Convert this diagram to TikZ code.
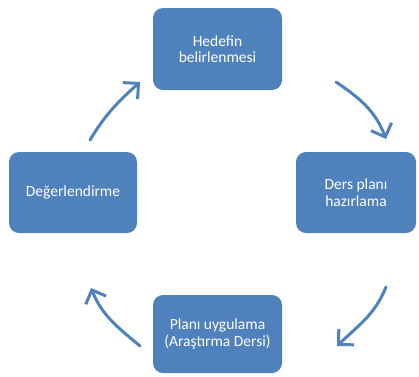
\documentclass[tikz,border=0pt]{standalone}
\usepackage{fontspec}
\setmainfont{Carlito}
\usetikzlibrary{arrows.meta}
\definecolor{boxblue}{HTML}{4F81BD}
\tikzset{
  stepbox/.style={rectangle, rounded corners=10pt, fill=boxblue, draw=none,
    text=white, align=center, inner sep=2pt,
    font=\fontsize{15.5}{16.5}\selectfont},
  cyclearrow/.style={draw=boxblue, line width=3pt, line cap=round,
    -{Straight Barb[length=11pt, width=22pt, line width=3pt]}}
}
\begin{document}
\begin{tikzpicture}[x=1pt, y=-1pt]
\useasboundingbox (0,0) rectangle (419,376);
\node[stepbox, minimum width=129pt, minimum height=82pt] (top) at (217.5,49) {Hedefin\\belirlenmesi};
\node[stepbox, minimum width=120pt, minimum height=81pt] (right) at (356,192.5) {Ders planı\\hazırlama};
\node[stepbox, minimum width=129pt, minimum height=78pt] (bottom) at (217.5,334) {Planı uygulama\\(Araştırma Dersi)};
\node[stepbox, minimum width=128pt, minimum height=81pt] (left) at (73,192.5) {Değerlendirme};
\coordinate (a1s) at (336,82);  \coordinate (a1e) at (386,139);
\coordinate (a2s) at (386,287); \coordinate (a2e) at (337,346);
\coordinate (a3s) at (140,346); \coordinate (a3e) at (91,288);
\coordinate (a4s) at (90,140);  \coordinate (a4e) at (140,82);
\draw[cyclearrow] (a1s) to[out=-34, in=111] (a1e);
\draw[cyclearrow] (a2s) to[out=-112, in=44] (a2e);
\draw[cyclearrow] (a3s) to[out=140, in=-68] (a3e);
\draw[cyclearrow] (a4s) to[out=59, in=222] (a4e);
\end{tikzpicture}
\end{document}
